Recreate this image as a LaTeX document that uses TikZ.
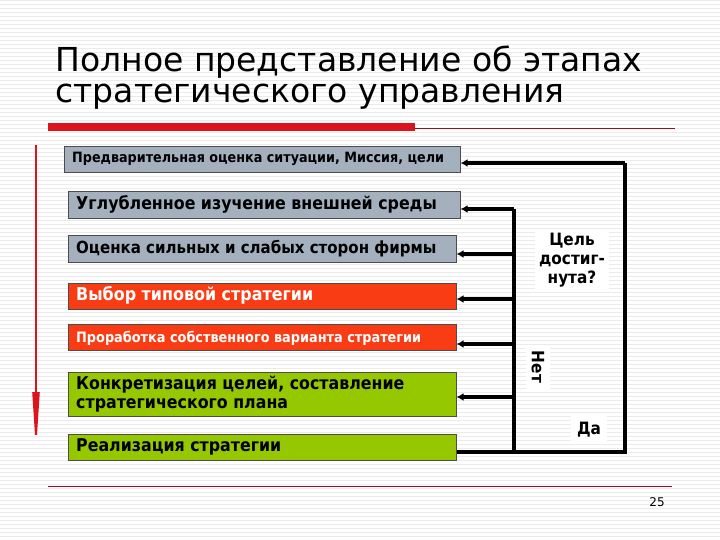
\documentclass[tikz,border=0pt]{standalone}
\usepackage{fontspec}
\setmainfont{DejaVu Sans}
\newfontfamily\cond{DejaVu Sans Condensed}
\usetikzlibrary{arrows.meta}
\definecolor{boxgray}{RGB}{164,176,190}
\definecolor{boxred}{RGB}{250,60,20}
\definecolor{boxgreen}{RGB}{150,200,0}
\definecolor{barred}{RGB}{220,20,30}
\begin{document}
\begin{tikzpicture}[x=1pt,y=-1pt,
  stage/.style={draw=black!70,line width=0.6pt,anchor=north west,inner sep=0pt,text depth=0pt},
  lbl/.style={anchor=west,font=\cond\bfseries,inner sep=0pt},
  fb/.style={line width=3.2pt,-{Latex[length=7pt,width=8pt]}},
  ln/.style={line width=3.2pt}]
\useasboundingbox (0,0) rectangle (720,540);
\fill[white] (0,0) rectangle (720,540);
\foreach \yy in {0,4,...,540}{\draw[black!8,line width=0.5pt] (0,\yy) -- (720,\yy);}
% title
\node[anchor=west,font=\fontsize{33}{38}\selectfont] (t1) at (52,62) {Полное представление об этапах};
\node[anchor=west,font=\fontsize{33}{38}\selectfont] (t2) at (52,97) {стратегического управления};
\fill[barred] (48,123) rectangle (415,131);
\draw[barred!70!black,line width=0.6pt] (415,128) -- (675,128);
\draw[barred!70!black,line width=0.6pt] (48,486) -- (672,486);
\node[font=\fontsize{12}{14}\selectfont] (pg) at (657,502) {25};
% stages
\node[stage,fill=boxgray,minimum width=396,minimum height=26] (b1) at (64,146) {};
\node[lbl,font=\cond\bfseries\fontsize{14.2}{16}\selectfont] at (72,159) {Предварительная оценка ситуации, Миссия, цели};
\node[stage,fill=boxgray,minimum width=392,minimum height=27] (b2) at (68,191) {};
\node[lbl,font=\cond\bfseries\fontsize{17.6}{20}\selectfont] at (76,204.5) {Углубленное изучение внешней среды};
\node[stage,fill=boxgray,minimum width=388,minimum height=27] (b3) at (68,235) {};
\node[lbl,font=\cond\bfseries\fontsize{16.7}{19}\selectfont] at (76,248.5) {Оценка сильных и слабых сторон фирмы};
\node[stage,fill=boxred,minimum width=388,minimum height=26] (b4) at (68,283) {};
\node[lbl,text=white,font=\cond\bfseries\fontsize{17.7}{20}\selectfont] at (76,295.5) {Выбор типовой стратегии};
\node[stage,fill=boxred,minimum width=388,minimum height=26] (b5) at (68,324) {};
\node[lbl,text=white,font=\cond\bfseries\fontsize{14.3}{16}\selectfont] at (76,338) {Проработка собственного варианта стратегии};
\node[stage,fill=boxgreen,minimum width=388,minimum height=44] (b6) at (68,372) {};
\node[lbl,align=left,font=\cond\bfseries\fontsize{17.6}{19.5}\selectfont] at (76,394) {Конкретизация целей, составление\\стратегического плана};
\node[stage,fill=boxgreen,minimum width=388,minimum height=26] (b7) at (68,434) {};
\node[lbl,font=\cond\bfseries\fontsize{17.6}{20}\selectfont] at (76,447) {Реализация стратегии};
% left red arrow
\draw[barred,line width=2pt,-{Triangle[length=60pt,width=7pt]}] (36,145) -- (36,452);
% feedback
\coordinate (ib) at (514,452); \coordinate (it) at (514,209);
\coordinate (ob) at (625,452); \coordinate (ot) at (625,163);
\draw[ln] (b7.east |- ib) -- (ob) -- (ot);
\draw[ln] (ib) -- (it);
\draw[fb] (ot) -- (b1.east |- ot);
\draw[fb] (it) -- (b2.east |- it);
\draw[fb] (514,254) -- (b3.east |- 0,254);
\draw[fb] (514,299) -- (b4.east |- 0,299);
\draw[fb] (514,344) -- (b5.east |- 0,344);
\draw[fb] (514,397) -- (b6.east |- 0,397);
% labels
\node[fill=white,align=center,inner sep=4pt,font=\cond\bfseries\fontsize{17}{19}\selectfont] (q) at (572,260) {Цель\\достиг-\\нута?};
\node[fill=white,rotate=-90,inner sep=6pt,font=\cond\bfseries\fontsize{17}{19}\selectfont] (net) at (538,367) {Нет};
\node[fill=white,inner sep=6pt,font=\cond\bfseries\fontsize{17}{19}\selectfont] (da) at (589,430) {Да};
\end{tikzpicture}
\end{document}
